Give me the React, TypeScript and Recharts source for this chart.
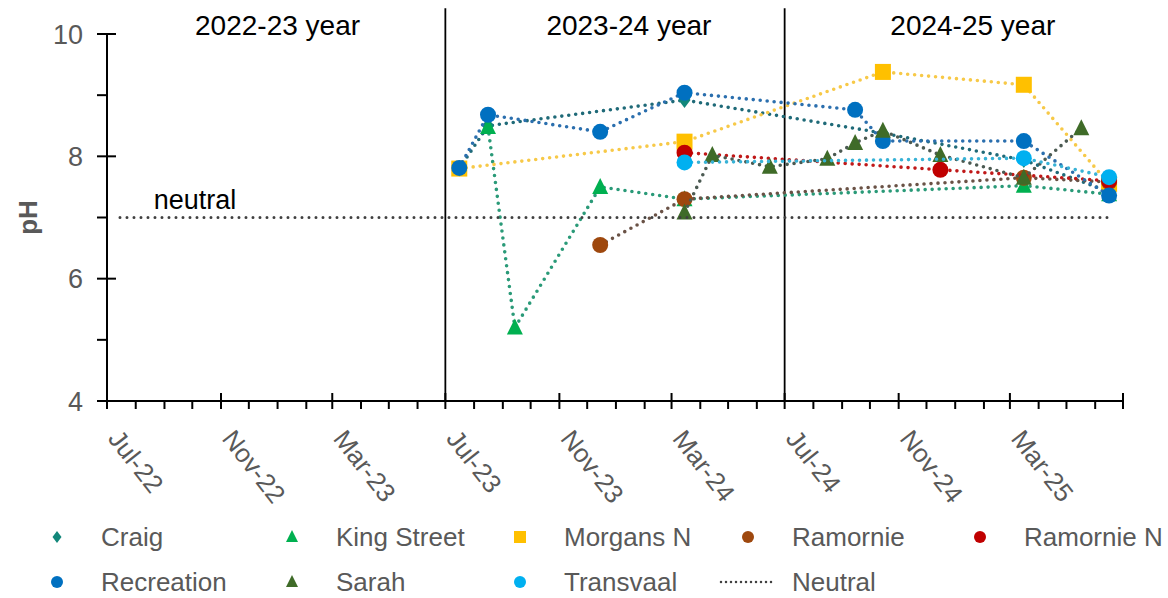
import React from "react";
import {
  ScatterChart,
  Scatter,
  XAxis,
  YAxis,
  ReferenceLine,
  ReferenceDot,
} from "recharts";

// sampling dates and pH readings per site
const craigDates = ["2023-07-16", "2023-08-16", "2024-03-15", "2024-10-15", "2025-03-16", "2025-06-16"];
const craigPH = [7.8, 8.5, 8.92, 8.38, 7.94, 7.42];

const kingDates = ["2023-08-16", "2023-09-14", "2023-12-15", "2024-03-15", "2025-03-16", "2025-06-16"];
const kingPH = [8.48, 5.2, 7.5, 7.3, 7.52, 7.38];

const morgansDates = ["2023-07-16", "2024-03-15", "2024-10-15", "2025-03-16", "2025-06-16"];
const morgansPH = [7.8, 8.24, 9.38, 9.17, 7.55];

const ramornieDates = ["2023-12-15", "2024-03-15", "2025-03-16", "2025-06-16"];
const ramorniePH = [6.55, 7.3, 7.65, 7.58];

const ramornieNDates = ["2024-03-15", "2024-12-16", "2025-06-16"];
const ramornieNPH = [8.06, 7.78, 7.6];

const recreationDates = ["2023-07-16", "2023-08-16", "2023-12-15", "2024-03-15", "2024-09-15", "2024-10-15", "2025-03-16", "2025-06-16"];
const recreationPH = [7.81, 8.68, 8.4, 9.04, 8.76, 8.25, 8.25, 7.36];

const sarahDates = ["2024-03-15", "2024-04-14", "2024-06-15", "2024-08-16", "2024-09-15", "2024-10-15", "2024-12-16", "2025-03-16", "2025-05-17"];
const sarahPH = [7.08, 8.02, 7.83, 7.96, 8.22, 8.42, 8.02, 7.65, 8.46];

const transvaalDates = ["2024-03-15", "2025-03-16", "2025-06-16"];
const transvaalPH = [7.9, 7.97, 7.66];

const neutralDates = ["2022-07-15", "2025-06-16"];
const neutralPH = [7, 7];

const xTickLabels = ["Jul-22", "Nov-22", "Mar-23", "Jul-23", "Nov-23", "Mar-24", "Jul-24", "Nov-24", "Mar-25"];
const yearLabels = ["2022-23 year", "2023-24 year", "2024-25 year"];
const yearLabelDates = ["2023-01-01", "2024-01-15", "2025-01-20"];
const yearBreaks = ["2023-07-01", "2024-07-01"];

const toTime = (s: string) =>
  Date.UTC(+s.slice(0, 4), +s.slice(5, 7) - 1, +s.slice(8, 10));

const START = toTime("2022-07-01");
const END = toTime("2025-07-01");

// one tick per month, every 4th one is a major tick
const monthTicks: number[] = [];
for (let i = 0; i <= 36; i++) monthTicks.push(Date.UTC(2022, 6 + i, 1));

const pts = (dates: string[], vals: number[]) =>
  dates.map((d, i) => ({ x: toTime(d), y: vals[i] }));

type Kind = "circle" | "square" | "triangle" | "diamond" | "none";

const SERIES: {
  name: string;
  data: { x: number; y: number }[];
  kind: Kind;
  fill: string;
  line: string;
}[] = [
  { name: "Craig", data: pts(craigDates, craigPH), kind: "diamond", fill: "#12877a", line: "#1f6a78" },
  { name: "King Street", data: pts(kingDates, kingPH), kind: "triangle", fill: "#00b050", line: "#2a9a78" },
  { name: "Morgans N", data: pts(morgansDates, morgansPH), kind: "square", fill: "#ffc000", line: "#f7c948" },
  { name: "Ramornie", data: pts(ramornieDates, ramorniePH), kind: "circle", fill: "#9e480e", line: "#6a5246" },
  { name: "Ramornie N", data: pts(ramornieNDates, ramornieNPH), kind: "circle", fill: "#c00000", line: "#c01818" },
  { name: "Recreation", data: pts(recreationDates, recreationPH), kind: "circle", fill: "#0070c0", line: "#2b6fae" },
  { name: "Sarah", data: pts(sarahDates, sarahPH), kind: "triangle", fill: "#3f6b28", line: "#4b5a52" },
  { name: "Transvaal", data: pts(transvaalDates, transvaalPH), kind: "circle", fill: "#00b0f0", line: "#38b2d6" },
];

const neutralData = pts(neutralDates, neutralPH);

function Marker({ cx, cy, kind, fill, size }: any) {
  if (cx == null || cy == null) return <g />;
  const h = size / 2;
  switch (kind) {
    case "circle":
      return <circle cx={cx} cy={cy} r={h} fill={fill} />;
    case "square":
      return <rect x={cx - h} y={cy - h} width={size} height={size} fill={fill} />;
    case "triangle":
      return (
        <polygon
          points={`${cx},${cy - h - 1} ${cx + h},${cy + h - 1} ${cx - h},${cy + h - 1}`}
          fill={fill}
        />
      );
    case "diamond":
      return (
        <polygon
          points={`${cx},${cy - h} ${cx + h * 0.75},${cy} ${cx},${cy + h} ${cx - h * 0.75},${cy}`}
          fill={fill}
        />
      );
    default:
      return <g />;
  }
}

const TICK_GRAY = "#595959";
const FONT = "'Liberation Sans', Arial, sans-serif";

function XTick({ x, y, payload }: any) {
  const d = new Date(payload.value);
  const idx = (d.getUTCFullYear() - 2022) * 12 + d.getUTCMonth() - 6;
  const major = idx % 4 === 0;
  const label = major ? xTickLabels[idx / 4] : undefined;
  return (
    <g>
      <line x1={x} x2={x} y1={major ? y - 8 : y} y2={y + 8} stroke="#000" strokeWidth={2} />
      {label && (
        <text
          x={x}
          y={y + 38}
          transform={`rotate(52 ${x} ${y + 38})`}
          textAnchor="start"
          fontSize={26}
          fontFamily={FONT}
          fill={TICK_GRAY}
        >
          {label}
        </text>
      )}
    </g>
  );
}

function YTick({ x, y, payload }: any) {
  const major = payload.value % 2 === 0;
  return (
    <g>
      <line x1={x - 10} x2={major ? x + 9 : x} y1={y} y2={y} stroke="#000" strokeWidth={2} />
      {major && (
        <text
          x={x - 24}
          y={y}
          dy="0.36em"
          textAnchor="end"
          fontSize={27}
          fontFamily={FONT}
          fill={TICK_GRAY}
        >
          {payload.value}
        </text>
      )}
    </g>
  );
}

function LegendMark({ kind, color }: { kind: Kind | "line"; color: string }) {
  return (
    <svg width={60} height={20} style={{ display: "block" }}>
      {kind === "line" ? (
        <line x1={3} x2={57} y1={10} y2={10} stroke={color} strokeWidth={2.5}
          strokeDasharray="0 5" strokeLinecap="round" />
      ) : (
        <Marker cx={30} cy={10} kind={kind} fill={color} size={12} />
      )}
    </svg>
  );
}

const legendCols = [27, 262, 490, 718, 950];

function ChartLegend() {
  const items = [
    ...SERIES.map((s) => ({ name: s.name, kind: s.kind as Kind | "line", color: s.fill })),
    { name: "Neutral", kind: "line" as const, color: "#404040" },
  ];
  return (
    <div style={{ position: "absolute", left: 0, top: 0, width: 1168, height: 598, pointerEvents: "none" }}>
      {items.map((it, i) => {
        const row = Math.floor(i / 5);
        const col = i % 5;
        return (
          <div
            key={it.name}
            style={{
              position: "absolute",
              left: legendCols[col],
              top: 537 + row * 45 - 15,
              height: 30,
              display: "flex",
              alignItems: "center",
              fontFamily: FONT,
              fontSize: 26,
              color: TICK_GRAY,
              whiteSpace: "nowrap",
            }}
          >
            <LegendMark kind={it.kind} color={it.color} />
            <span style={{ marginLeft: 14 }}>{it.name}</span>
          </div>
        );
      })}
    </div>
  );
}

export default function App() {
  return (
    <div style={{ position: "absolute", left: 0, top: 0, width: 1168, height: 598, background: "#fff" }}>
      <ScatterChart
        width={1168}
        height={598}
        margin={{ top: 34, right: 45, bottom: 97, left: 0 }}
      >
        <XAxis
          type="number"
          dataKey="x"
          domain={[START, END]}
          ticks={monthTicks}
          interval={0}
          tick={(p: any) => <XTick {...p} />}
          tickLine={false}
          tickSize={0}
          tickMargin={0}
          axisLine={{ stroke: "#000", strokeWidth: 2 }}
          height={100}
          allowDataOverflow
        />
        <YAxis
          type="number"
          dataKey="y"
          domain={[4, 10]}
          ticks={[4, 5, 6, 7, 8, 9, 10]}
          interval={0}
          tick={(p: any) => <YTick {...p} />}
          tickLine={false}
          tickSize={0}
          tickMargin={0}
          axisLine={{ stroke: "#000", strokeWidth: 2 }}
          width={107}
          label={{
            content: (p: any) => {
              const vb = p.viewBox || { x: 0, y: 34, width: 107, height: 367 };
              const cx = vb.x + 28;
              const cy = vb.y + vb.height / 2;
              return (
                <text
                  x={cx}
                  y={cy}
                  transform={`rotate(-90 ${cx} ${cy})`}
                  textAnchor="middle"
                  dominantBaseline="central"
                  fontSize={26}
                  fontWeight="bold"
                  fontFamily={FONT}
                  fill={TICK_GRAY}
                >
                  pH
                </text>
              );
            },
          }}
        />
        {yearBreaks.map((d) => (
          <ReferenceLine
            key={d}
            segment={[
              { x: toTime(d), y: 4 },
              { x: toTime(d), y: 10.42 },
            ]}
            ifOverflow="visible"
            stroke="#000"
            strokeWidth={1.8}
          />
        ))}
        {yearLabels.map((t, i) => (
          <ReferenceDot
            key={t}
            x={toTime(yearLabelDates[i])}
            y={10.14}
            r={0}
            fill="none"
            stroke="none"
            ifOverflow="visible"
            label={{ value: t, position: "center", fontSize: 28, fill: "#000", fontFamily: FONT }}
          />
        ))}
        <ReferenceDot
          x={toTime("2022-10-04")}
          y={7.29}
          r={0}
          fill="none"
          stroke="none"
          ifOverflow="visible"
          label={{ value: "neutral", position: "center", fontSize: 27, fill: "#000", fontFamily: FONT }}
        />
        {SERIES.map((s) => (
          <Scatter
            key={s.name}
            name={s.name}
            data={s.data}
            isAnimationActive={false}
            line={{
              stroke: s.line,
              strokeWidth: 3.6,
              strokeDasharray: "0 7",
              strokeLinecap: "round",
            }}
            lineType="joint"
            fill={s.fill}
            shape={(p: any) => <Marker cx={p.cx} cy={p.cy} kind={s.kind} fill={s.fill} size={16} />}
          />
        ))}
        <Scatter
          name="Neutral"
          data={neutralData}
          isAnimationActive={false}
          line={{
            stroke: "#404040",
            strokeWidth: 3,
            strokeDasharray: "0 7",
            strokeLinecap: "round",
          }}
          lineType="joint"
          fill="#404040"
          shape={() => <g />}
        />
      </ScatterChart>
      <ChartLegend />
    </div>
  );
}
